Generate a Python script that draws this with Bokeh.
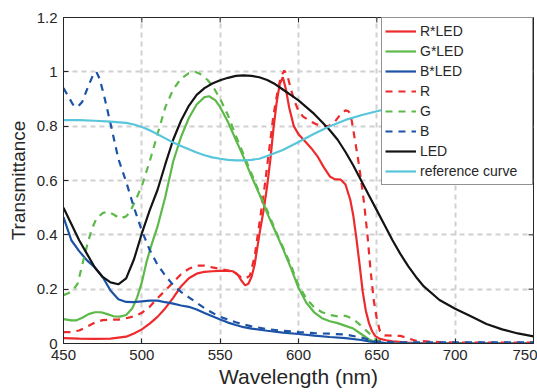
from bokeh.plotting import figure
from bokeh.models import FixedTicker, Legend, LegendItem, Range1d
from bokeh.embed import file_html
from bokeh.resources import INLINE

# ---------------- data ----------------
led_wl = [450, 455, 460, 465, 470, 475, 480, 485, 490, 495, 500, 505, 510, 515, 520, 525, 530, 535,
          540, 545, 550, 555, 560, 565, 570, 575, 580, 585, 590, 595, 600, 605, 610, 615, 620, 625,
          630, 635, 640, 645, 650, 655, 660, 665, 670, 675, 680, 690, 700, 710, 720, 730, 740, 750]
led_t = [0.50, 0.44, 0.38, 0.33, 0.28, 0.245, 0.225, 0.218, 0.24, 0.31, 0.405, 0.49, 0.565, 0.66,
         0.75, 0.82, 0.875, 0.915, 0.94, 0.957, 0.969, 0.978, 0.985, 0.987, 0.985, 0.98, 0.97, 0.955,
         0.935, 0.915, 0.895, 0.87, 0.845, 0.815, 0.785, 0.75, 0.705, 0.655, 0.60, 0.545, 0.49, 0.435,
         0.38, 0.33, 0.285, 0.245, 0.21, 0.16, 0.128, 0.10, 0.072, 0.052, 0.037, 0.026]

ref_wl = [450, 460, 470, 480, 490, 495, 500, 505, 510, 515, 520, 525, 530, 535, 540, 545, 550, 555,
          560, 565, 570, 575, 580, 590, 600, 610, 620, 630, 640, 650, 655]
ref_t = [0.822, 0.822, 0.82, 0.817, 0.812, 0.806, 0.797, 0.785, 0.77, 0.755, 0.74, 0.727, 0.715,
         0.703, 0.693, 0.685, 0.68, 0.676, 0.674, 0.674, 0.676, 0.68, 0.69, 0.712, 0.742, 0.772,
         0.80, 0.823, 0.84, 0.855, 0.862]

bled_wl = [450, 455, 460, 465, 470, 475, 480, 485, 490, 495, 500, 505, 510, 515, 520, 525, 530, 535,
           540, 545, 550, 555, 560, 565, 570, 580, 590, 600, 610, 620, 630, 640, 645, 650, 655, 660,
           700, 750]
bled_t = [0.465, 0.38, 0.34, 0.306, 0.28, 0.245, 0.195, 0.163, 0.153, 0.152, 0.155, 0.158, 0.158,
          0.152, 0.147, 0.14, 0.135, 0.125, 0.112, 0.10, 0.088, 0.077, 0.068, 0.06, 0.055, 0.047,
          0.04, 0.035, 0.029, 0.024, 0.02, 0.013, 0.008, 0.004, 0.002, 0.001, 0.0, 0.0]

b_wl = [450, 453, 456, 459, 462, 466, 469, 471, 473, 476, 480, 485, 490, 495, 500, 505, 510, 515,
        520, 525, 530, 535, 540, 545, 550, 555, 560, 565, 570, 580, 590, 600, 610, 620, 630, 640,
        645, 650, 655, 660, 700, 750]
b_t = [0.94, 0.91, 0.88, 0.87, 0.89, 0.95, 0.99, 1.0, 0.975, 0.91, 0.81, 0.68, 0.595, 0.50, 0.415,
       0.345, 0.29, 0.25, 0.215, 0.19, 0.17, 0.15, 0.13, 0.113, 0.098, 0.088, 0.078, 0.07, 0.063,
       0.053, 0.047, 0.042, 0.038, 0.036, 0.033, 0.022, 0.014, 0.008, 0.005, 0.004, 0.004, 0.004]

gled_wl = [450, 455, 458, 462, 466, 470, 474, 478, 482, 486, 490, 494, 497, 500, 503, 506, 510, 515,
           520, 525, 530, 535, 540, 543, 547, 550, 555, 560, 565, 570, 575, 580, 585, 590, 595, 600,
           605, 610, 615, 620, 625, 630, 635, 640, 645, 650, 655, 700, 750]
gled_t = [0.09, 0.085, 0.085, 0.095, 0.108, 0.115, 0.115, 0.108, 0.10, 0.099, 0.105, 0.13, 0.17,
          0.225, 0.30, 0.36, 0.43, 0.54, 0.67, 0.76, 0.83, 0.88, 0.907, 0.91, 0.895, 0.87, 0.815,
          0.75, 0.685, 0.615, 0.55, 0.48, 0.415, 0.35, 0.28, 0.205, 0.15, 0.115, 0.093, 0.082, 0.075,
          0.065, 0.055, 0.035, 0.015, 0.004, 0.0, 0.0, 0.0]

g_wl = [450, 453, 456, 459, 462, 465, 468, 471, 475, 478, 482, 486, 490, 492, 495, 500, 505, 510,
        515, 520, 525, 530, 534, 538, 542, 546, 550, 555, 560, 565, 570, 575, 580, 585, 590, 595,
        600, 605, 610, 615, 620, 625, 630, 635, 640, 645, 650, 655, 660]
g_t = [0.178, 0.185, 0.195, 0.22, 0.29, 0.36, 0.42, 0.46, 0.48, 0.485, 0.475, 0.46, 0.468, 0.48,
       0.515, 0.58, 0.67, 0.77, 0.87, 0.935, 0.975, 0.995, 1.0, 0.99, 0.97, 0.94, 0.90, 0.84, 0.765,
       0.695, 0.625, 0.555, 0.49, 0.42, 0.355, 0.29, 0.215, 0.165, 0.133, 0.115, 0.105, 0.10, 0.102,
       0.09, 0.065, 0.038, 0.012, 0.002, 0.0]

rled_wl = [450, 460, 470, 480, 490, 495, 500, 505, 510, 515, 520, 525, 530, 535, 540, 545, 550, 555,
           558, 561, 564, 566, 568, 570, 572, 575, 578, 580, 582, 584, 586, 588, 590, 592, 594, 597,
           600, 604, 608, 612, 616, 620, 623, 627, 630, 633, 635, 637, 639, 641, 643, 645, 647, 649,
           652, 656, 660, 670, 680, 750]
rled_t = [0.02, 0.018, 0.017, 0.018, 0.025, 0.037, 0.052, 0.073, 0.098, 0.13, 0.168, 0.21, 0.24,
          0.257, 0.264, 0.266, 0.267, 0.268, 0.266, 0.255, 0.228, 0.214, 0.22, 0.245, 0.29, 0.40,
          0.50, 0.58, 0.675, 0.79, 0.885, 0.955, 0.98, 0.935, 0.87, 0.80, 0.77, 0.745, 0.72, 0.69,
          0.65, 0.615, 0.605, 0.603, 0.585, 0.53, 0.47, 0.385, 0.29, 0.19, 0.12, 0.075, 0.045, 0.027,
          0.017, 0.012, 0.008, 0.003, 0.0, 0.0]

r_wl = [450, 455, 460, 465, 470, 475, 480, 485, 490, 495, 500, 505, 510, 515, 520, 525, 530, 535,
        540, 545, 550, 555, 560, 563, 566, 569, 572, 575, 578, 581, 584, 587, 589, 591, 593, 595,
        597, 600, 603, 607, 611, 615, 619, 623, 627, 630, 632, 634, 636, 638, 640, 642, 644, 646,
        648, 650, 652, 655, 665, 675, 690, 700, 750]
r_t = [0.042, 0.042, 0.048, 0.062, 0.077, 0.086, 0.088, 0.088, 0.093, 0.10, 0.113, 0.135, 0.167,
       0.195, 0.225, 0.255, 0.275, 0.287, 0.287, 0.28, 0.275, 0.268, 0.258, 0.245, 0.238, 0.25,
       0.32, 0.44, 0.56, 0.70, 0.84, 0.94, 0.985, 1.005, 0.985, 0.94, 0.90, 0.855, 0.835, 0.82,
       0.808, 0.80, 0.80, 0.815, 0.845, 0.858, 0.855, 0.82, 0.75, 0.68, 0.60, 0.51, 0.40, 0.27,
       0.16, 0.09, 0.045, 0.03, 0.028, 0.01, 0.005, 0.003, 0.003]

x_ticks = [450, 500, 550, 600, 650, 700, 750]
y_ticks = [0, 0.2, 0.4, 0.6, 0.8, 1.0, 1.2]
y_tick_labels = ["0", "0.2", "0.4", "0.6", "0.8", "1", "1.2"]

# ---------------- figure ----------------
FONT = "Liberation Sans"
TXT = "#262626"
W, H = 537, 392
BL, BR, BT, BB = 63, 4, 17, 49
X0, X1, Y0, Y1 = 450, 750, 0, 1.2

p = figure(width=W, height=H, x_range=Range1d(X0, X1), y_range=Range1d(Y0, Y1),
           output_backend="svg", toolbar_location=None,
           min_border_left=BL, min_border_right=BR, min_border_top=BT, min_border_bottom=BB)
p.background_fill_color = "white"
p.border_fill_color = "white"
p.outline_line_color = TXT
p.outline_line_width = 1

p.xaxis.ticker = FixedTicker(ticks=x_ticks)
p.yaxis.ticker = FixedTicker(ticks=y_ticks)
p.yaxis.major_label_overrides = {v: s for v, s in zip(y_ticks, y_tick_labels)}

for ax in (p.xaxis[0], p.yaxis[0]):
    ax.major_tick_in = 5
    ax.major_tick_out = 0
    ax.minor_tick_in = 0
    ax.minor_tick_out = 0
    ax.axis_line_color = TXT
    ax.major_tick_line_color = TXT
    ax.major_label_text_font = FONT
    ax.major_label_text_font_size = "15px"
    ax.major_label_text_color = TXT
    ax.axis_label_text_font = FONT
    ax.axis_label_text_font_style = "normal"
    ax.axis_label_text_color = TXT

p.xaxis.axis_label = "Wavelength (nm)"
p.xaxis.axis_label_text_font_size = "21px"
p.xaxis.major_label_standoff = 6
p.xaxis.axis_label_standoff = 2
p.yaxis.axis_label = "Transmittance"
p.yaxis.axis_label_text_font_size = "19px"
p.yaxis.major_label_standoff = 6
p.yaxis.axis_label_standoff = 5

for g in (p.xgrid[0], p.ygrid[0]):
    g.grid_line_color = "#d0d0d0"
    g.grid_line_width = 2
    g.grid_line_dash = "5 4"

# inward box ticks on the top and right edges (MATLAB style), 5 px long
frame_w = W - BL - BR
frame_h = H - BT - BB
tick_dy = 5 * (Y1 - Y0) / frame_h
tick_dx = 5 * (X1 - X0) / frame_w
p.segment(x0=x_ticks, y0=[Y1] * len(x_ticks), x1=x_ticks, y1=[Y1 - tick_dy] * len(x_ticks),
          line_color=TXT, line_width=1)
p.segment(x0=[X1] * len(y_ticks), y0=y_ticks, x1=[X1 - tick_dx] * len(y_ticks), y1=y_ticks,
          line_color=TXT, line_width=1)

RED = "#EE2A2C"
GREEN = "#5DB949"
BLUE = "#1D53A6"
BLACK = "#141414"
CYAN = "#58C6DA"
LW = 2.2
DASH = "7 6"

r1 = p.line(rled_wl, rled_t, line_color=RED, line_width=LW)
r2 = p.line(gled_wl, gled_t, line_color=GREEN, line_width=LW)
r3 = p.line(bled_wl, bled_t, line_color=BLUE, line_width=LW)
r4 = p.line(r_wl, r_t, line_color=RED, line_width=LW, line_dash=DASH)
r5 = p.line(g_wl, g_t, line_color=GREEN, line_width=LW, line_dash=DASH)
r6 = p.line(b_wl, b_t, line_color=BLUE, line_width=LW, line_dash=DASH)
r7 = p.line(led_wl, led_t, line_color=BLACK, line_width=LW)
r8 = p.line(ref_wl, ref_t, line_color=CYAN, line_width=LW)

legend = Legend(items=[
    LegendItem(label="R*LED", renderers=[r1]),
    LegendItem(label="G*LED", renderers=[r2]),
    LegendItem(label="B*LED", renderers=[r3]),
    LegendItem(label="R", renderers=[r4]),
    LegendItem(label="G", renderers=[r5]),
    LegendItem(label="B", renderers=[r6]),
    LegendItem(label="LED", renderers=[r7]),
    LegendItem(label="reference curve", renderers=[r8]),
], location="top_right", margin=0, padding=3, spacing=0,
    glyph_width=31, glyph_height=20, label_height=20, label_width=109, label_standoff=4,
    label_text_font=FONT, label_text_font_size="14px", label_text_color=TXT,
    border_line_color=TXT, border_line_width=1,
    background_fill_color="white", background_fill_alpha=1.0)
p.add_layout(legend)

open("out.html", "w").write(file_html(p, INLINE))
